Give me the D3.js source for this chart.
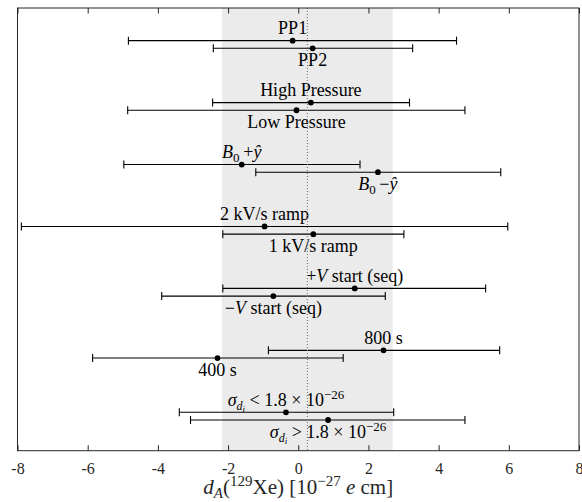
<!DOCTYPE html>
<html>
<head>
<meta charset="utf-8">
<script src="https://cdn.jsdelivr.net/npm/d3@7"></script>
<style>
body{margin:0;background:#fff;}
</style>
</head>
<body>
<div id="root"></div>
<script>
var W=582,H=502;
var margin={t:8, r:3, b:51.3, l:17.5};
var w=W-margin.l-margin.r;
var h=H-margin.t-margin.b;
var FONT='Liberation Serif';

// data
var names=['PP1','PP2','High Pressure','Low Pressure','B0+y','B0-y','2 kV/s ramp','1 kV/s ramp',
           '+V start (seq)','-V start (seq)','800 s','400 s','sigma<','sigma>'];
var centers=[-0.16,0.41,0.36,-0.05,-1.61,2.27,-0.96,0.43,1.61,-0.71,2.43,-2.30,-0.35,0.85];
var lows=[-4.84,-2.42,-2.44,-4.86,-4.97,-1.21,-7.89,-2.15,-2.15,-3.89,-0.85,-5.86,-3.39,-3.07];
var highs=[4.51,3.26,3.17,4.75,1.76,5.77,5.97,3.01,5.34,2.48,5.74,1.28,2.72,4.75];
var rows=[0.938,1.062,1.938,2.062,2.938,3.062,3.938,4.062,4.938,5.062,5.938,6.062,6.938,7.062];
var labelSide=['above','below','above','below','above','below','above','below','above','below','above','below','above','below'];
var xTicks=[-8,-6,-4,-2,0,2,4,6,8];
var meanVal=0.26, meanErr=2.43;

var svg=d3.select('#root').append('svg')
    .attr('width',W).attr('height',H)
    .attr('font-family',FONT)
    .append('g')
    .attr('transform','translate('+margin.l+','+margin.t+')');

var xScale=d3.scaleLinear().domain([-8,8]).range([0,w]);
var yScale=d3.scaleLinear().domain([0.411,7.558]).range([0,h]);

//shaded band
svg.append('rect')
    .attr('x',xScale(meanVal-meanErr))
    .attr('y',0)
    .attr('width',xScale(meanVal+meanErr)-xScale(meanVal-meanErr))
    .attr('height',h)
    .attr('fill','#ebebeb');

//error bars
var data=names.map(function(n,i){
  return {name:n,c:centers[i],lo:lows[i],hi:highs[i],y:rows[i],side:labelSide[i]};
});

var g=svg.append('g').selectAll('g').data(data).enter().append('g');
g.append('line')
  .attr('x1',function(d){return xScale(d.lo)})
  .attr('x2',function(d){return xScale(d.hi)})
  .attr('y1',function(d){return yScale(d.y)})
  .attr('y2',function(d){return yScale(d.y)})
  .attr('stroke','#000').attr('stroke-width',1.1);
['lo','hi'].forEach(function(k){
  g.append('line')
    .attr('x1',function(d){return xScale(d[k])})
    .attr('x2',function(d){return xScale(d[k])})
    .attr('y1',function(d){return yScale(d.y)-4})
    .attr('y2',function(d){return yScale(d.y)+4})
    .attr('stroke','#000').attr('stroke-width',1.1);
});
g.append('circle')
  .attr('cx',function(d){return xScale(d.c)})
  .attr('cy',function(d){return yScale(d.y)})
  .attr('r',2.9).attr('fill','#000');

//labels
var fs=18;
var lab=g.append('text')
  .attr('x',function(d){return xScale(d.c)})
  .attr('y',function(d){return yScale(d.y)+(d.side=='above'?-6.5:18)})
  .attr('text-anchor','middle')
  .attr('font-family',FONT)
  .attr('font-size',fs)
  .attr('fill','#000');

lab.each(function(d){
  var t=d3.select(this);
  function sp(s,opt){
    var e=t.append('tspan').text(s);
    opt=opt||{};
    if(opt.it) e.attr('font-style','italic');
    if(opt.dy) e.attr('dy',opt.dy);
    if(opt.fs) e.attr('font-size',opt.fs);
    return e;
  }
  if(d.name=='B0+y'){
    sp('B',{it:1}); sp('0',{dy:4,fs:13}); sp('\u2009+',{dy:-4}); sp('\u0177',{it:1});
  }else if(d.name=='B0-y'){
    sp('B',{it:1}); sp('0',{dy:4,fs:13}); sp('\u2009\u2212',{dy:-4}); sp('\u0177',{it:1});
  }else if(d.name=='+V start (seq)'){
    sp('+'); sp('V',{it:1}); sp(' start (seq)');
  }else if(d.name=='-V start (seq)'){
    sp('\u2212'); sp('V',{it:1}); sp(' start (seq)');
  }else if(d.name=='sigma<' || d.name=='sigma>'){
    sp('\u03c3',{it:1}); sp('d',{it:1,dy:4,fs:12}); sp('i',{it:1,dy:2,fs:9});
    sp(d.name=='sigma<'?'  < 1.8 \u00d7 10':'  > 1.8 \u00d7 10',{dy:-6});
    sp('\u221226',{dy:-7,fs:13});
  }else{
    t.text(d.name);
  }
});

//mean dotted line
svg.append('line')
  .attr('x1',xScale(meanVal)).attr('x2',xScale(meanVal))
  .attr('y1',0).attr('y2',h)
  .attr('stroke','#777').attr('stroke-width',1.1)
  .attr('stroke-dasharray','1,2');

//frame + ticks
svg.append('rect').attr('x',0).attr('y',0).attr('width',w).attr('height',h)
  .attr('fill','none').attr('stroke','#262626').attr('stroke-width',1);

var xAxis=d3.axisBottom(xScale).tickValues(xTicks).tickSizeInner(-5.5).tickSizeOuter(0)
  .tickFormat(function(d){return d<0?'-'+Math.abs(d):d});
var xa=svg.append('g').attr('transform','translate(0,'+h+')').call(xAxis);
xa.attr('font-family',FONT);
xa.select('.domain').remove();
xa.selectAll('line').attr('stroke','#262626');
xa.selectAll('text').attr('font-size',16).attr('font-family',FONT)
  .attr('fill','#262626').attr('dy',null).attr('y',23);

var xTop=d3.axisTop(xScale).tickValues(xTicks).tickSizeInner(-5.5).tickSizeOuter(0).tickFormat('');
var xt=svg.append('g').call(xTop);
xt.select('.domain').remove();
xt.selectAll('line').attr('stroke','#262626');

//axis title
var title=svg.append('text')
  .attr('x',xScale(0)).attr('y',h+43.5)
  .attr('text-anchor','middle').attr('font-family',FONT)
  .attr('font-size',21).attr('fill','#262626');
title.append('tspan').attr('font-style','italic').text('d');
title.append('tspan').attr('font-style','italic').attr('font-size',15).attr('dy',4).text('A');
title.append('tspan').attr('dy',-4).text('(');
title.append('tspan').attr('font-size',15).attr('dy',-8).text('129');
title.append('tspan').attr('dy',8).text('Xe)  [10');
title.append('tspan').attr('font-size',15).attr('dy',-8).text('\u221227');
title.append('tspan').attr('dy',8).text('  ');
title.append('tspan').attr('font-style','italic').text('e');
title.append('tspan').text(' cm]');
</script>
</body>
</html>
